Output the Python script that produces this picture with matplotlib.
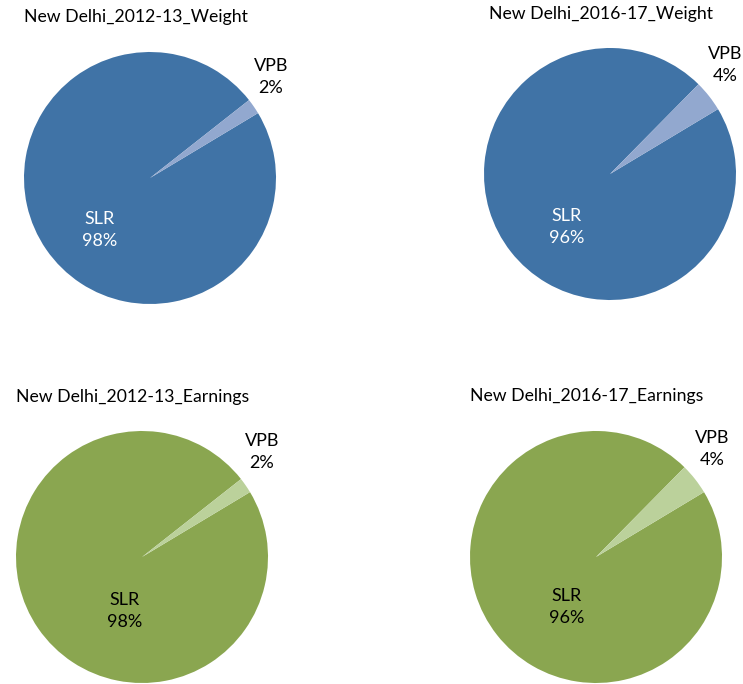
import matplotlib
matplotlib.use("Agg")
import matplotlib.pyplot as plt

plt.rcParams['font.family'] = ['Lato', 'DejaVu Sans']

labels = ['SLR', 'VPB']
weight_2012 = [98, 2]
weight_2016 = [96, 4]
earn_2012 = [98, 2]
earn_2016 = [96, 4]
titles = ['New Delhi_2012-13_Weight', 'New Delhi_2016-17_Weight',
          'New Delhi_2012-13_Earnings', 'New Delhi_2016-17_Earnings']

BLUE = ['#4073a6', '#92a8cf']
GREEN = ['#8aa650', '#bbd19b']

W, H = 743, 684
fig = plt.figure(figsize=(W / 100, H / 100), dpi=100)
fig.patch.set_facecolor('white')

R = 126
# (centre x, centre y, title x, title y, slr label offset, vpb label offset, colours, slr text colour)
panels = [
    (weight_2012, 150, 178, 136, 17, (-50, -52), (121, 101), BLUE, 'white'),
    (weight_2016, 610, 174, 601, 14, (-43, -53), (115, 109), BLUE, 'white'),
    (earn_2012, 142, 557, 133, 397, (-17, -54), (120, 105), GREEN, 'black'),
    (earn_2016, 596, 557, 587, 396, (-29, -50), (116, 108), GREEN, 'black'),
]

for (vals, cx, cy, tx, ty, slr_off, vpb_off, cols, slr_col), title in zip(panels, titles):
    ax = fig.add_axes([(cx - R) / W, 1 - (cy + R) / H, 2 * R / W, 2 * R / H])
    ax.pie(vals, colors=cols, startangle=31, counterclock=False,
           radius=1, wedgeprops=dict(linewidth=0))
    ax.set_xlim(-1, 1)
    ax.set_ylim(-1, 1)
    ax.set_aspect('equal')
    ax.axis('off')
    ax.text(slr_off[0] / R, slr_off[1] / R, f'{labels[0]}\n{vals[0]}%',
            ha='center', va='center', fontsize=13, color=slr_col,
            linespacing=1.45, clip_on=False)
    ax.text(vpb_off[0] / R, vpb_off[1] / R, f'{labels[1]}\n{vals[1]}%',
            ha='center', va='center', fontsize=13, color='black',
            linespacing=1.45, clip_on=False)
    fig.text(tx / W, 1 - ty / H, title, ha='center', va='center',
             fontsize=12.7, color='black')

fig.savefig('out.png', dpi=100, facecolor='white')
